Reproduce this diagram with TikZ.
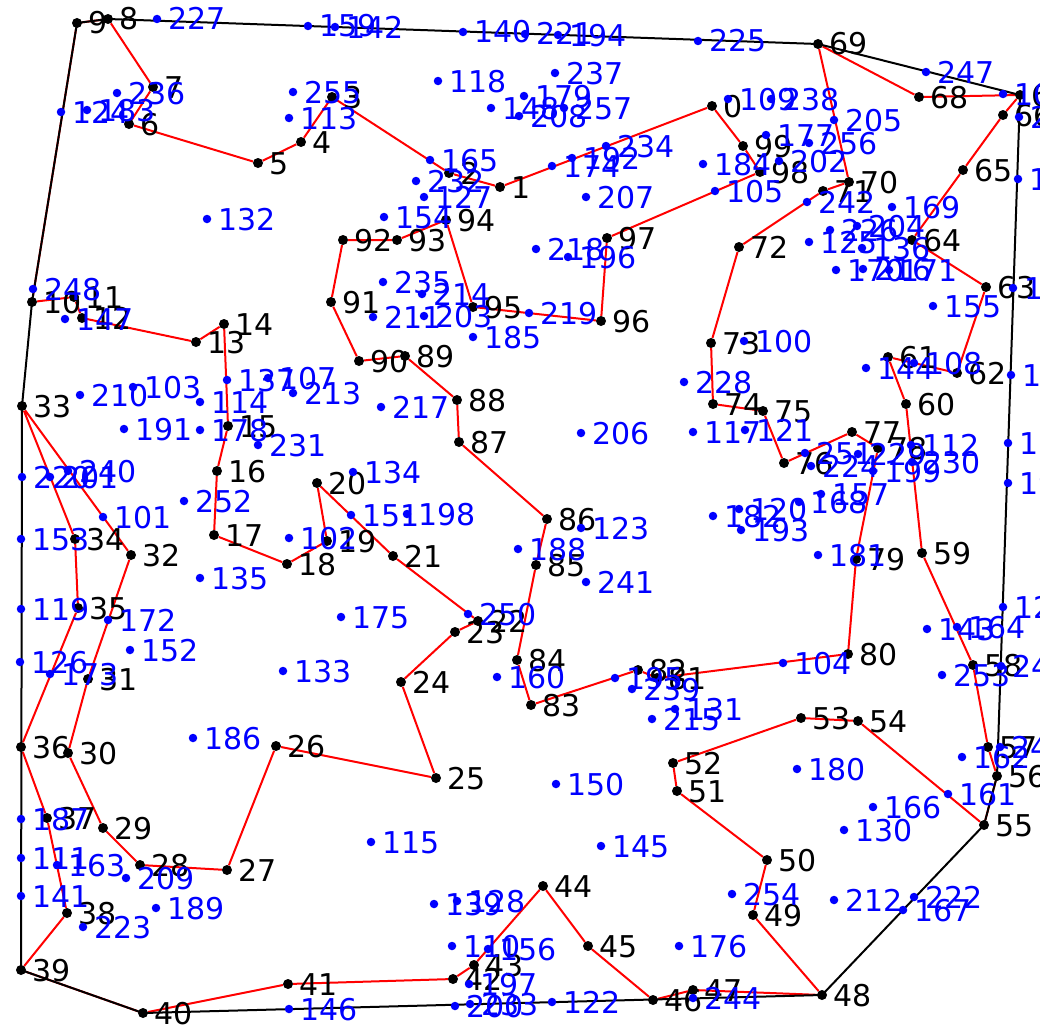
\documentclass[tikz,border=0pt]{standalone}
\usepackage{fontspec}
\setmainfont{DejaVu Sans}
\usetikzlibrary{backgrounds}

\tikzset{
  tourdot/.style={fill=black,circle,inner sep=0pt,minimum size=10pt},
  restdot/.style={fill=blue,circle,inner sep=0pt,minimum size=8.5pt},
  ptlab/.style={anchor=base west,inner sep=0pt,xshift=11pt,yshift=-11pt,
                font=\fontsize{30}{30}\selectfont},
  tour/.style={red,line width=2pt},
  hull/.style={black,line width=2pt}
}
% black: points on the tour, blue: the other points
\newcommand{\tourpt}[3]{\node[tourdot] (p#1) at (#2,#3) {};
  \node[ptlab] (l#1) at (p#1) {#1};}
\newcommand{\restpt}[3]{\node[restdot] (p#1) at (#2,#3) {};
  \node[ptlab,text=blue] (l#1) at (p#1) {#1};}

\begin{document}
\begin{tikzpicture}[x=1pt,y=-1pt]
\useasboundingbox (0,0) rectangle (1040,1033);

% tour points
\tourpt{0}{712}{106} \tourpt{1}{500}{187} \tourpt{2}{449}{173}
\tourpt{3}{332}{97} \tourpt{4}{301}{142} \tourpt{5}{258}{163}
\tourpt{6}{129}{124} \tourpt{7}{153}{87} \tourpt{8}{108}{19}
\tourpt{9}{77}{23} \tourpt{10}{32}{302} \tourpt{11}{74}{297}
\tourpt{12}{82}{318} \tourpt{13}{196}{342} \tourpt{14}{224}{324}
\tourpt{15}{228}{426} \tourpt{16}{217}{471} \tourpt{17}{214}{535}
\tourpt{18}{287}{564} \tourpt{19}{327}{541} \tourpt{20}{317}{483}
\tourpt{21}{393}{556} \tourpt{22}{478}{621} \tourpt{23}{455}{632}
\tourpt{24}{401}{682} \tourpt{25}{436}{778} \tourpt{26}{276}{746}
\tourpt{27}{227}{870} \tourpt{28}{140}{865} \tourpt{29}{103}{828}
\tourpt{30}{68}{753} \tourpt{31}{88}{679} \tourpt{32}{131}{555}
\tourpt{33}{22}{406} \tourpt{34}{75}{539} \tourpt{35}{78}{608}
\tourpt{36}{21}{747} \tourpt{37}{47}{818} \tourpt{38}{67}{913}
\tourpt{39}{21}{970} \tourpt{40}{143}{1013} \tourpt{41}{288}{984}
\tourpt{42}{453}{979} \tourpt{43}{474}{965} \tourpt{44}{543}{886}
\tourpt{45}{588}{946} \tourpt{46}{653}{1000} \tourpt{47}{693}{990}
\tourpt{48}{822}{995} \tourpt{49}{753}{915} \tourpt{50}{767}{860}
\tourpt{51}{677}{791} \tourpt{52}{673}{763} \tourpt{53}{801}{718}
\tourpt{54}{858}{721} \tourpt{55}{984}{825} \tourpt{56}{997}{776}
\tourpt{57}{988}{747} \tourpt{58}{973}{665} \tourpt{59}{922}{553}
\tourpt{60}{906}{404} \tourpt{61}{888}{357} \tourpt{62}{957}{373}
\tourpt{63}{986}{287} \tourpt{64}{912}{240} \tourpt{65}{963}{170}
\tourpt{66}{1003}{115} \tourpt{67}{1020}{95} \tourpt{68}{919}{97}
\tourpt{69}{818}{44} \tourpt{70}{849}{182} \tourpt{71}{823}{191}
\tourpt{72}{739}{247} \tourpt{73}{711}{343} \tourpt{74}{713}{404}
\tourpt{75}{763}{411} \tourpt{76}{784}{463} \tourpt{77}{852}{432}
\tourpt{78}{878}{448} \tourpt{79}{856}{559} \tourpt{80}{848}{654}
\tourpt{81}{657}{678} \tourpt{82}{638}{670} \tourpt{83}{531}{705}
\tourpt{84}{517}{660} \tourpt{85}{536}{565} \tourpt{86}{547}{519}
\tourpt{87}{459}{442} \tourpt{88}{457}{400} \tourpt{89}{405}{356}
\tourpt{90}{359}{361} \tourpt{91}{331}{302} \tourpt{92}{343}{240}
\tourpt{93}{397}{240} \tourpt{94}{446}{220} \tourpt{95}{473}{307}
\tourpt{96}{601}{321} \tourpt{97}{607}{238} \tourpt{98}{760}{172}
\tourpt{99}{743}{146}

% remaining points
\restpt{100}{744}{341} \restpt{101}{103}{517} \restpt{102}{289}{538}
\restpt{103}{133}{387} \restpt{104}{783}{663} \restpt{105}{715}{191}
\restpt{106}{1003}{94} \restpt{107}{268}{378} \restpt{108}{914}{363}
\restpt{109}{728}{99} \restpt{110}{452}{946} \restpt{111}{21}{858}
\restpt{112}{911}{445} \restpt{113}{289}{118} \restpt{114}{200}{402}
\restpt{115}{371}{842} \restpt{116}{1018}{179} \restpt{117}{693}{432}
\restpt{118}{438}{81} \restpt{119}{21}{609} \restpt{120}{739}{509}
\restpt{121}{745}{430} \restpt{122}{552}{1002} \restpt{123}{581}{528}
\restpt{124}{61}{112} \restpt{125}{809}{242} \restpt{126}{20}{662}
\restpt{127}{424}{197} \restpt{128}{457}{901} \restpt{129}{1003}{607}
\restpt{130}{844}{830} \restpt{131}{675}{709} \restpt{132}{207}{219}
\restpt{133}{283}{671} \restpt{134}{353}{472} \restpt{135}{200}{578}
\restpt{136}{862}{248} \restpt{137}{227}{380} \restpt{138}{1013}{288}
\restpt{139}{434}{904} \restpt{140}{463}{32} \restpt{141}{21}{896}
\restpt{142}{335}{27} \restpt{143}{927}{629} \restpt{144}{866}{368}
\restpt{145}{601}{846} \restpt{146}{289}{1009} \restpt{147}{65}{319}
\restpt{148}{491}{108} \restpt{149}{1011}{375} \restpt{150}{556}{784}
\restpt{151}{351}{515} \restpt{152}{130}{650} \restpt{153}{21}{539}
\restpt{154}{384}{217} \restpt{155}{933}{306} \restpt{156}{488}{949}
\restpt{157}{821}{494} \restpt{158}{1008}{443} \restpt{159}{308}{26}
\restpt{160}{497}{677} \restpt{161}{948}{794} \restpt{162}{962}{757}
\restpt{163}{57}{865} \restpt{164}{957}{627} \restpt{165}{430}{160}
\restpt{166}{873}{807} \restpt{167}{903}{910} \restpt{168}{799}{502}
\restpt{169}{892}{207} \restpt{170}{836}{270} \restpt{171}{889}{270}
\restpt{172}{108}{620} \restpt{173}{50}{674} \restpt{174}{552}{166}
\restpt{175}{341}{617} \restpt{176}{679}{946} \restpt{177}{766}{135}
\restpt{178}{200}{430} \restpt{179}{524}{96} \restpt{180}{797}{769}
\restpt{181}{818}{555} \restpt{182}{713}{516} \restpt{183}{87}{110}
\restpt{184}{703}{164} \restpt{185}{473}{337} \restpt{186}{193}{738}
\restpt{187}{21}{819} \restpt{188}{518}{549} \restpt{189}{156}{908}
\restpt{190}{1008}{483} \restpt{191}{124}{429} \restpt{192}{572}{158}
\restpt{193}{741}{530} \restpt{194}{558}{35} \restpt{195}{615}{678}
\restpt{196}{568}{257} \restpt{197}{469}{984} \restpt{198}{407}{514}
\restpt{199}{873}{471} \restpt{200}{455}{1006} \restpt{201}{50}{477}
\restpt{202}{779}{161} \restpt{203}{424}{316} \restpt{204}{857}{226}
\restpt{205}{834}{120} \restpt{206}{581}{433} \restpt{207}{586}{197}
\restpt{208}{519}{116} \restpt{209}{126}{878} \restpt{210}{80}{395}
\restpt{211}{373}{317} \restpt{212}{834}{900} \restpt{213}{293}{393}
\restpt{214}{422}{294} \restpt{215}{652}{719} \restpt{216}{863}{269}
\restpt{217}{381}{407} \restpt{218}{536}{249} \restpt{219}{529}{313}
\restpt{220}{22}{477} \restpt{221}{525}{34} \restpt{222}{914}{897}
\restpt{223}{83}{927} \restpt{224}{811}{466} \restpt{225}{698}{41}
\restpt{226}{830}{230} \restpt{227}{157}{19} \restpt{228}{684}{382}
\restpt{229}{858}{454} \restpt{230}{912}{462} \restpt{231}{258}{445}
\restpt{232}{416}{181} \restpt{233}{470}{1004} \restpt{234}{606}{146}
\restpt{235}{383}{282} \restpt{236}{117}{93} \restpt{237}{555}{73}
\restpt{238}{771}{99} \restpt{239}{632}{689} \restpt{240}{68}{471}
\restpt{241}{586}{582} \restpt{242}{807}{202} \restpt{244}{693}{998}
\restpt{245}{1001}{666} \restpt{246}{1019}{117} \restpt{247}{926}{72}
\restpt{248}{33}{289} \restpt{249}{1000}{747} \restpt{250}{468}{614}
\restpt{251}{805}{453} \restpt{252}{184}{501} \restpt{253}{942}{675}
\restpt{254}{732}{894} \restpt{255}{293}{92} \restpt{256}{809}{143}
\restpt{257}{564}{108}

\begin{scope}[on background layer]
\fill[white] (0,0) rectangle (1040,1033);
% the tour
\draw[tour] (p0) -- (p1) -- (p2) -- (p3) -- (p4) -- (p5) -- (p6) -- (p7)
  -- (p8) -- (p9) -- (p10) -- (p11) -- (p12) -- (p13) -- (p14) -- (p15)
  -- (p16) -- (p17) -- (p18) -- (p19) -- (p20) -- (p21) -- (p22) -- (p23)
  -- (p24) -- (p25) -- (p26) -- (p27) -- (p28) -- (p29) -- (p30) -- (p31)
  -- (p32) -- (p33) -- (p34) -- (p35) -- (p36) -- (p37) -- (p38) -- (p39)
  -- (p40) -- (p41) -- (p42) -- (p43) -- (p44) -- (p45) -- (p46) -- (p47)
  -- (p48) -- (p49) -- (p50) -- (p51) -- (p52) -- (p53) -- (p54) -- (p55)
  -- (p56) -- (p57) -- (p58) -- (p59) -- (p60) -- (p61) -- (p62) -- (p63)
  -- (p64) -- (p65) -- (p66) -- (p67) -- (p68) -- (p69) -- (p70) -- (p71)
  -- (p72) -- (p73) -- (p74) -- (p75) -- (p76) -- (p77) -- (p78) -- (p79)
  -- (p80) -- (p81) -- (p82) -- (p83) -- (p84) -- (p85) -- (p86) -- (p87)
  -- (p88) -- (p89) -- (p90) -- (p91) -- (p92) -- (p93) -- (p94) -- (p95)
  -- (p96) -- (p97) -- (p98) -- (p99) -- (p0);
% the hull
\draw[hull] (p9.center) -- (p8.center) -- (p69.center) -- (p67.center)
  -- (p56.center) -- (p55.center) -- (p48.center) -- (p40.center)
  -- (p39.center) -- (p33.center) -- (p10.center) -- cycle;
\end{scope}
\end{tikzpicture}
\end{document}
